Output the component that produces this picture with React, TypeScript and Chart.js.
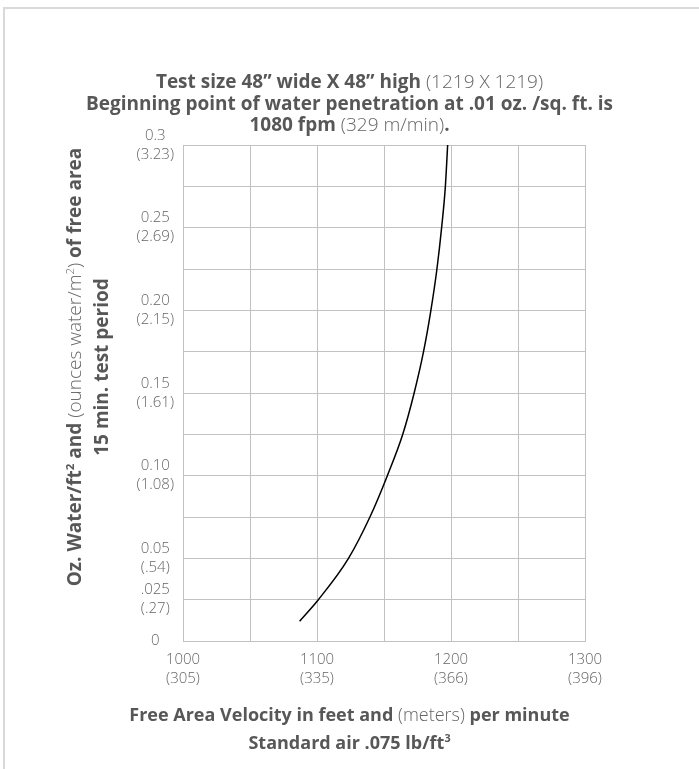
import React, { useEffect, useRef } from 'react';
import { Chart, registerables } from 'chart.js';

Chart.register(...registerables);

// Curve: free area velocity (fpm) vs water (oz/ft²)
const curveVelocity = [1087, 1101, 1123.5, 1139.5, 1152.5, 1164, 1172.5, 1179.5, 1185, 1189.5, 1193, 1195.8, 1197.5];
const curveWater = [0.012, 0.025, 0.05, 0.075, 0.1, 0.125, 0.15, 0.175, 0.2, 0.225, 0.25, 0.275, 0.3];

const xTickValues = [1000, 1100, 1200, 1300];
const xTickFeet = ['1000', '1100', '1200', '1300'];
const xTickMeters = ['(305)', '(335)', '(366)', '(396)'];

const yTickValues = [0, 0.025, 0.05, 0.1, 0.15, 0.2, 0.25, 0.3];
const yTickOunces = ['0', '.025', '0.05', '0.10', '0.15', '0.20', '0.25', '0.3'];
const yTickMetric = ['', '(.27)', '(.54)', '(1.08)', '(1.61)', '(2.15)', '(2.69)', '(3.23)'];

const FONT = "'Open Sans', 'DejaVu Sans', sans-serif";
const BOLD_COLOR = '#575757';
const LIGHT_COLOR = '#666666';
const GRID_COLOR = '#c2c2c2';

const W = 699;
const H = 769;
const AREA = { left: 183, top: 145, right: 585, bottom: 641 };

const light: React.CSSProperties = { fontWeight: 300, color: LIGHT_COLOR };
const supStyle: React.CSSProperties = { fontSize: '0.6em', verticalAlign: 'super', lineHeight: 0 };

export default function App() {
  const canvasRef = useRef<HTMLCanvasElement | null>(null);

  useEffect(() => {
    const canvas = canvasRef.current;
    if (!canvas) return;
    const chart = new Chart(canvas, {
      type: 'scatter',
      data: {
        datasets: [
          {
            data: curveVelocity.map((v, i) => ({ x: v, y: curveWater[i] })),
            showLine: true,
            borderColor: '#000000',
            borderWidth: 1.5,
            pointRadius: 0,
            cubicInterpolationMode: 'monotone',
            fill: false,
          },
        ],
      },
      options: {
        animation: false,
        responsive: false,
        maintainAspectRatio: false,
        devicePixelRatio: 1,
        layout: { padding: { left: 0, top: AREA.top, right: W - AREA.right, bottom: 0 } },
        plugins: { legend: { display: false }, tooltip: { enabled: false }, title: { display: false } },
        scales: {
          x: {
            type: 'linear',
            min: 1000,
            max: 1300,
            afterFit: (scale: any) => {
              scale.height = H - AREA.bottom;
            },
            grid: { color: GRID_COLOR, lineWidth: 1, drawTicks: false },
            border: { color: GRID_COLOR, width: 1 },
            ticks: {
              stepSize: 50,
              autoSkip: false,
              maxRotation: 0,
              padding: 9,
              color: LIGHT_COLOR,
              font: { family: FONT, size: 15, weight: 300 as any, lineHeight: '19px' as any },
              callback: (value: any) => {
                const i = xTickValues.findIndex((v) => Math.abs(v - Number(value)) < 1e-6);
                if (i < 0) return '';
                return [xTickFeet[i], xTickMeters[i]];
              },
            },
          },
          y: {
            type: 'linear',
            min: 0,
            max: 0.3,
            afterFit: (scale: any) => {
              scale.width = AREA.left;
            },
            grid: { color: GRID_COLOR, lineWidth: 1, drawTicks: false },
            border: { color: GRID_COLOR, width: 1 },
            ticks: {
              stepSize: 0.025,
              autoSkip: false,
              padding: 9,
              crossAlign: 'center',
              color: LIGHT_COLOR,
              font: { family: FONT, size: 15, weight: 300 as any, lineHeight: '19px' as any },
              callback: (value: any) => {
                const i = yTickValues.findIndex((v) => Math.abs(v - Number(value)) < 1e-6);
                if (i < 0) return '';
                return yTickMetric[i] ? [yTickOunces[i], yTickMetric[i]] : yTickOunces[i];
              },
            },
          },
        },
      },
    });
    return () => chart.destroy();
  }, []);

  return (
    <div
      style={{
        position: 'absolute',
        left: 0,
        top: 0,
        width: W,
        height: H,
        overflow: 'hidden',
        background: '#ffffff',
        fontFamily: FONT,
        color: BOLD_COLOR,
      }}
    >
      <div
        style={{
          position: 'absolute',
          left: 3,
          top: 7,
          width: W + 20,
          height: H + 20,
          borderLeft: '2px solid #d9d9d9',
          borderTop: '2px solid #d9d9d9',
        }}
      />
      <canvas
        ref={canvasRef}
        width={W}
        height={H}
        style={{ position: 'absolute', left: 0, top: 0, width: W, height: H }}
      />
      {/* Chart title */}
      <div
        style={{
          position: 'absolute',
          left: 0,
          top: 71,
          width: W,
          textAlign: 'center',
          fontSize: 19,
          lineHeight: '21.5px',
          fontWeight: 700,
          whiteSpace: 'nowrap',
        }}
      >
        <div>
          Test size 48” wide X 48” high <span style={light}>(1219 X 1219)</span>
        </div>
        <div>Beginning point of water penetration at .01 oz. /sq. ft. is</div>
        <div>
          1080 fpm <span style={light}>(329 m/min)</span>.
        </div>
      </div>
      {/* X axis title */}
      <div
        style={{
          position: 'absolute',
          left: 0,
          top: 700,
          width: W,
          textAlign: 'center',
          fontSize: 18,
          lineHeight: '28px',
          fontWeight: 700,
          whiteSpace: 'nowrap',
        }}
      >
        <div>
          Free Area Velocity in feet and <span style={light}>(meters)</span> per minute
        </div>
        <div>
          Standard air .075 lb/ft<sup style={supStyle}>3</sup>
        </div>
      </div>
      {/* Y axis title (rotated) */}
      <div
        style={{
          position: 'absolute',
          left: 88 - 300,
          top: 367 - 27,
          width: 600,
          height: 54,
          textAlign: 'center',
          fontSize: 19,
          lineHeight: '27px',
          fontWeight: 700,
          transform: 'rotate(-90deg)',
          transformOrigin: '50% 50%',
          whiteSpace: 'nowrap',
        }}
      >
        <div>
          Oz. Water/ft<sup style={supStyle}>2</sup> and{' '}
          <span style={light}>
            (ounces water/m<sup style={supStyle}>2</sup>)
          </span>{' '}
          of free area
        </div>
        <div>15 min. test period</div>
      </div>
    </div>
  );
}
